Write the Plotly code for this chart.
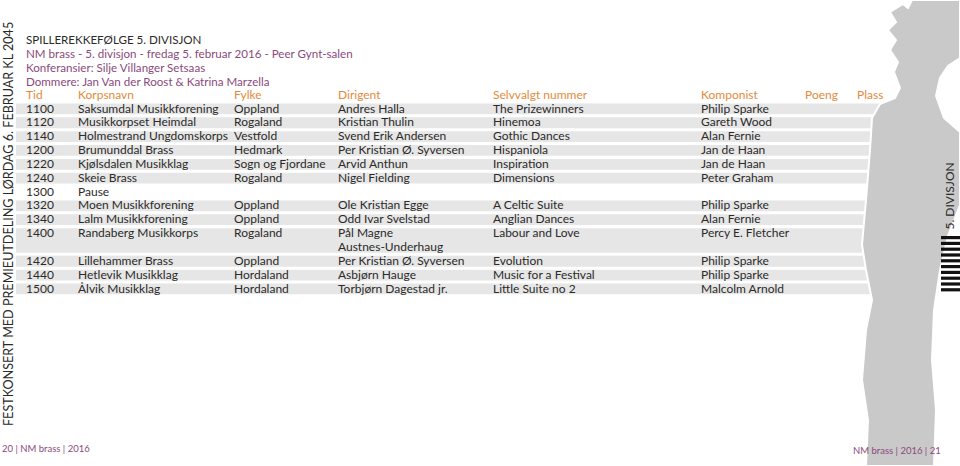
import plotly.graph_objects as go

# ---- data -------------------------------------------------------------
title = "SPILLEREKKEFØLGE 5. DIVISJON"
subtitle_lines = [
    "NM brass - 5. divisjon - fredag 5. februar 2016 - Peer Gynt-salen",
    "Konferansier: Silje Villanger Setsaas",
    "Dommere: Jan Van der Roost & Katrina Marzella",
]
headers = ["Tid", "Korpsnavn", "Fylke", "Dirigent", "Selvvalgt nummer", "Komponist", "Poeng", "Plass"]

tid = ["1100", "1120", "1140", "1200", "1220", "1240", "1300", "1320", "1340", "1400", "1420", "1440", "1500"]
korps = ["Saksumdal Musikkforening", "Musikkorpset Heimdal", "Holmestrand Ungdomskorps",
         "Brumunddal Brass", "Kjølsdalen Musikklag", "Skeie Brass", "Pause",
         "Moen Musikkforening", "Lalm Musikkforening", "Randaberg Musikkorps",
         "Lillehammer Brass", "Hetlevik Musikklag", "Ålvik Musikklag"]
fylke = ["Oppland", "Rogaland", "Vestfold", "Hedmark", "Sogn og Fjordane", "Rogaland", "",
         "Oppland", "Oppland", "Rogaland", "Oppland", "Hordaland", "Hordaland"]
dirigent = ["Andres Halla", "Kristian Thulin", "Svend Erik Andersen", "Per Kristian Ø. Syversen",
            "Arvid Anthun", "Nigel Fielding", "", "Ole Kristian Egge", "Odd Ivar Svelstad",
            "Pål Magne\nAustnes-Underhaug", "Per Kristian Ø. Syversen", "Asbjørn Hauge",
            "Torbjørn Dagestad jr."]
nummer = ["The Prizewinners", "Hinemoa", "Gothic Dances", "Hispaniola", "Inspiration", "Dimensions", "",
          "A Celtic Suite", "Anglian Dances", "Labour and Love", "Evolution", "Music for a Festival",
          "Little Suite no 2"]
komponist = ["Philip Sparke", "Gareth Wood", "Alan Fernie", "Jan de Haan", "Jan de Haan", "Peter Graham", "",
             "Philip Sparke", "Alan Fernie", "Percy E. Fletcher", "Philip Sparke", "Philip Sparke",
             "Malcolm Arnold"]
pause_rows = ["1300"]

side_text = "FESTKONSERT MED PREMIEUTDELING LØRDAG 6. FEBRUAR KL 2045"
division_tag = "5. DIVISJON"
footer_left = "20 | NM brass | 2016"
footer_right = "NM brass | 2016 | 21"

# ---- style ------------------------------------------------------------
FONT = "Lato"
DARK = "#2b2a29"
PLUM = "#8a4a7c"
ORANGE = "#e38a3d"
BAND = "#e6e6e6"
SILHOUETTE = "#c9c9c9"
BODY_SIZE = 12.0

col_x = [26, 78, 234, 338, 493, 701, 805, 857]
title_y = 41
sub_y0, sub_pitch = 55, 14
header_y = 95.8
first_y = 109.5
pitch = 13.85
band_x0, band_x1 = 16, 882

fig = go.Figure()
shapes = []
annotations = []


def text_trace(xs, ys, labels, color=DARK, size=BODY_SIZE):
    fig.add_trace(go.Scatter(
        x=xs, y=ys, text=labels, mode="text", textposition="middle right",
        textfont=dict(family=FONT, size=size, color=color),
        hoverinfo="skip", cliponaxis=False,
    ))


# title block
text_trace([col_x[0]], [title_y], [title], size=11.6)
text_trace([col_x[0]] * len(subtitle_lines), [sub_y0 + i * sub_pitch for i in range(len(subtitle_lines))],
           subtitle_lines, color=PLUM, size=11.6)
text_trace(col_x, [header_y] * len(headers), headers, color=ORANGE)

# rows: bands + one text trace per column
line_idx = 0
columns = [tid, korps, fylke, dirigent, nummer, komponist]
col_pts = [([], [], []) for _ in columns]
for r in range(len(tid)):
    cells = [c[r] for c in columns]
    n_lines = max(len(c.split("\n")) for c in cells)
    y0 = first_y + line_idx * pitch
    if tid[r] not in pause_rows:
        shapes.append(dict(type="rect", xref="x", yref="y", layer="below",
                           x0=band_x0, x1=band_x1,
                           y0=y0 - 6.0, y1=y0 + (n_lines - 1) * pitch + 4.8,
                           fillcolor=BAND, line=dict(width=0)))
    for ci, cell in enumerate(cells):
        for k, part in enumerate(cell.split("\n")):
            if part:
                col_pts[ci][0].append(col_x[ci])
                col_pts[ci][1].append(y0 + k * pitch)
                col_pts[ci][2].append(part)
    line_idx += n_lines
for xs, ys, labels in col_pts:
    text_trace(xs, ys, labels)

# silhouette of the figure on the right page
shapes.append(dict(
    type="path", xref="x", yref="y", layer="below",
    path=("M 903 4 L 908 8 L 912 0 L 960 0 L 960 58 L 948 66 L 940 78 L 936 96 L 944 118 "
          "L 960 132 L 960 205 L 948 236 L 940 270 L 934 310 L 932 360 L 936 410 "
          "L 934 466 L 866 466 L 868 420 L 862 380 L 866 330 L 872 300 L 866 270 "
          "L 862 245 L 866 200 L 870 150 L 872 118 L 880 104 L 895 98 L 900 88 "
          "L 894 72 L 898 62 L 890 50 L 896 40 L 888 30 L 896 22 L 890 12 Z"),
    fillcolor=SILHOUETTE, line=dict(color="white", width=2)))

# stripes under the division tag
for i in range(10):
    shapes.append(dict(type="rect", xref="x", yref="y", x0=941, x1=960,
                       y0=236 + i * 5.8, y1=236 + i * 5.8 + 3.2,
                       fillcolor="#111111", line=dict(width=0)))

annotations.append(dict(x=949, y=232, xref="x", yref="y", text=division_tag, showarrow=False,
                        textangle=-90, xanchor="center", yanchor="bottom",
                        font=dict(family=FONT, size=12, color=DARK)))
annotations.append(dict(x=8, y=224, xref="x", yref="y", text=side_text, showarrow=False,
                        textangle=-90, xanchor="center", yanchor="middle",
                        font=dict(family=FONT, size=12.6, color=DARK)))
text_trace([2], [450], [footer_left], color=PLUM, size=9.5)
text_trace([853], [452], [footer_right], color=PLUM, size=9.5)

fig.update_layout(
    width=960, height=466,
    margin=dict(l=0, r=0, t=0, b=0),
    paper_bgcolor="white", plot_bgcolor="white",
    xaxis=dict(range=[0, 960], visible=False, fixedrange=True),
    yaxis=dict(range=[466, 0], visible=False, fixedrange=True),
    shapes=shapes, annotations=annotations,
    showlegend=False,
)
fig.write_html("out.html", config={"displayModeBar": False},
               post_script="document.body.style.margin='0px';")
